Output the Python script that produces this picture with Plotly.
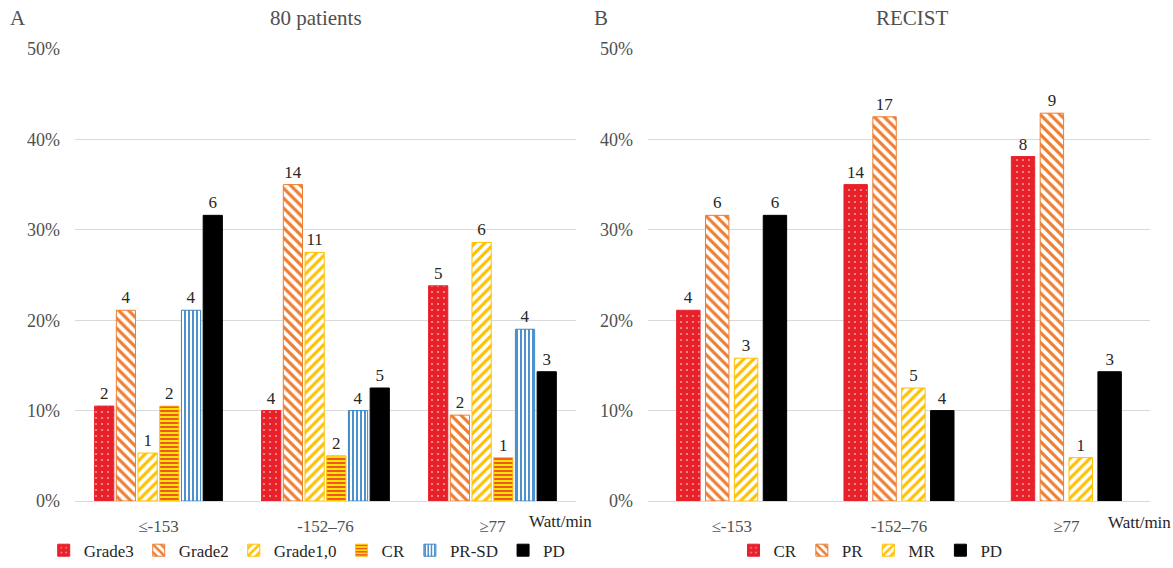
import plotly.graph_objects as go

# Cardiac power change groups (Watt/min)
categories = ["≤-153", "-152–76", "≥77"]

# Panel A: 80 patients, toxicity grade and response, share of each group
a_names = ["Grade3", "Grade2", "Grade1,0", "CR", "PR-SD", "PD"]
a_grade3 = [0.105, 0.100, 0.238]
a_grade2 = [0.211, 0.350, 0.095]
a_grade10 = [0.053, 0.275, 0.286]
a_cr = [0.105, 0.050, 0.048]
a_prsd = [0.211, 0.100, 0.190]
a_pd = [0.316, 0.125, 0.143]
a_counts = [
    [2, 4, 5],
    [4, 14, 2],
    [1, 11, 6],
    [2, 2, 1],
    [4, 4, 4],
    [6, 5, 3],
]

# Panel B: RECIST response, share of each group
b_names = ["CR", "PR", "MR", "PD"]
b_cr = [0.211, 0.350, 0.381]
b_pr = [0.316, 0.425, 0.429]
b_mr = [0.158, 0.125, 0.048]
b_pd = [0.316, 0.100, 0.143]
b_counts = [
    [4, 14, 8],
    [6, 17, 9],
    [3, 5, 1],
    [6, 4, 3],
]

a_values = [a_grade3, a_grade2, a_grade10, a_cr, a_prsd, a_pd]
b_values = [b_cr, b_pr, b_mr, b_pd]

RED = "#E8202A"
ORANGE = "#ED7D31"
GOLD = "#FFC000"
BLUE = "#3A85C8"
FONT = "Liberation Serif"
TEXT_GREY = "#505050"
TEXT_DARK = "#262626"

styles = {
    "dots": dict(color=RED, line=RED,
                 pattern=dict(shape=".", bgcolor=RED, fgcolor="#F49A9A", size=6, solidity=0.1)),
    "back": dict(color="white", line=ORANGE,
                 pattern=dict(shape="\\", bgcolor="white", fgcolor=ORANGE, size=7, solidity=0.45)),
    "fwd": dict(color="white", line=GOLD,
                pattern=dict(shape="/", bgcolor="white", fgcolor=GOLD, size=7, solidity=0.45)),
    "hstripe": dict(color="#FFE300", line=GOLD,
                    pattern=dict(shape="-", bgcolor="#FFE300", fgcolor="#F0562A", size=4, solidity=0.5)),
    "vstripe": dict(color="white", line=BLUE,
                    pattern=dict(shape="|", bgcolor="white", fgcolor=BLUE, size=4, solidity=0.45)),
    "solid": dict(color="black", line="black", pattern=None),
}
a_styles = ["dots", "back", "fwd", "hstripe", "vstripe", "solid"]
b_styles = ["dots", "back", "fwd", "solid"]

fig = go.Figure()


def add_panel(names, values, counts, style_keys, xaxis, yaxis, legend, span, bar_w):
    n = len(names)
    slot = span / n
    for i, (name, vals, cnt, key) in enumerate(zip(names, values, counts, style_keys)):
        st = styles[key]
        marker = dict(color=st["color"], line=dict(color=st["line"], width=1))
        if st["pattern"] is not None:
            marker["pattern"] = dict(fillmode="replace", **st["pattern"])
        fig.add_trace(go.Bar(
            x=categories, y=vals, name=name,
            xaxis=xaxis, yaxis=yaxis, legend=legend,
            width=bar_w, offset=-span / 2 + i * slot + (slot - bar_w) / 2,
            marker=marker,
            text=[str(c) for c in cnt], textposition="outside",
            textfont=dict(family=FONT, size=17, color=TEXT_DARK),
            cliponaxis=False, hoverinfo="skip",
        ))


add_panel(a_names, a_values, a_counts, a_styles, "x", "y", "legend", 0.78, 0.115)
add_panel(b_names, b_values, b_counts, b_styles, "x2", "y2", "legend2", 0.69, 0.14)

axis_y = dict(range=[0, 0.5], tickvals=[0, 0.1, 0.2, 0.3, 0.4, 0.5], tickformat=".0%",
              showgrid=True, gridcolor="#D9D9D9", gridwidth=1, zeroline=False,
              showline=False, ticks="", ticklabelstandoff=14,
              tickfont=dict(family=FONT, size=18, color=TEXT_GREY), fixedrange=True)
axis_x = dict(type="category", showgrid=False, showline=True, linecolor="#D9D9D9",
              linewidth=1, ticks="", ticklabelstandoff=10,
              tickfont=dict(family=FONT, size=17, color=TEXT_GREY),
              range=[-0.5, 2.5])

legend_font = dict(family=FONT, size=17, color=TEXT_DARK)
legend_common = dict(orientation="h", y=-0.07, xanchor="center", yanchor="top",
                     font=legend_font, itemwidth=30, tracegroupgap=0,
                     traceorder="normal", bgcolor="rgba(0,0,0,0)")


def label(text, x, y, size, color, anchor="center"):
    return dict(text=text, x=x, y=y, xref="paper", yref="paper",
                xanchor=anchor, yanchor="middle", showarrow=False,
                font=dict(family=FONT, size=size, color=color))


fig.update_layout(
    width=1173, height=568,
    margin=dict(l=75, r=23, t=49, b=67, autoexpand=False),
    paper_bgcolor="white", plot_bgcolor="white",
    font=dict(family=FONT, color=TEXT_GREY),
    xaxis=dict(domain=[0, 0.466], anchor="y", **axis_x),
    xaxis2=dict(domain=[0.533, 1], anchor="y2", **axis_x),
    yaxis=dict(anchor="x", **axis_y),
    yaxis2=dict(anchor="x2", **axis_y),
    showlegend=True,
    legend=dict(x=0.216, **legend_common),
    legend2=dict(x=0.74, **legend_common),
    annotations=[
        label("A", -0.062, 1.069, 21, TEXT_GREY, "left"),
        label("80 patients", 0.224, 1.069, 21, TEXT_GREY),
        label("B", 0.481, 1.069, 21, TEXT_GREY, "left"),
        label("RECIST", 0.779, 1.069, 21, TEXT_GREY),
        label("Watt/min", 0.42, -0.045, 17, TEXT_DARK, "left"),
        label("Watt/min", 0.959, -0.047, 17, TEXT_DARK, "left"),
    ],
)

fig.write_html("out.html")
